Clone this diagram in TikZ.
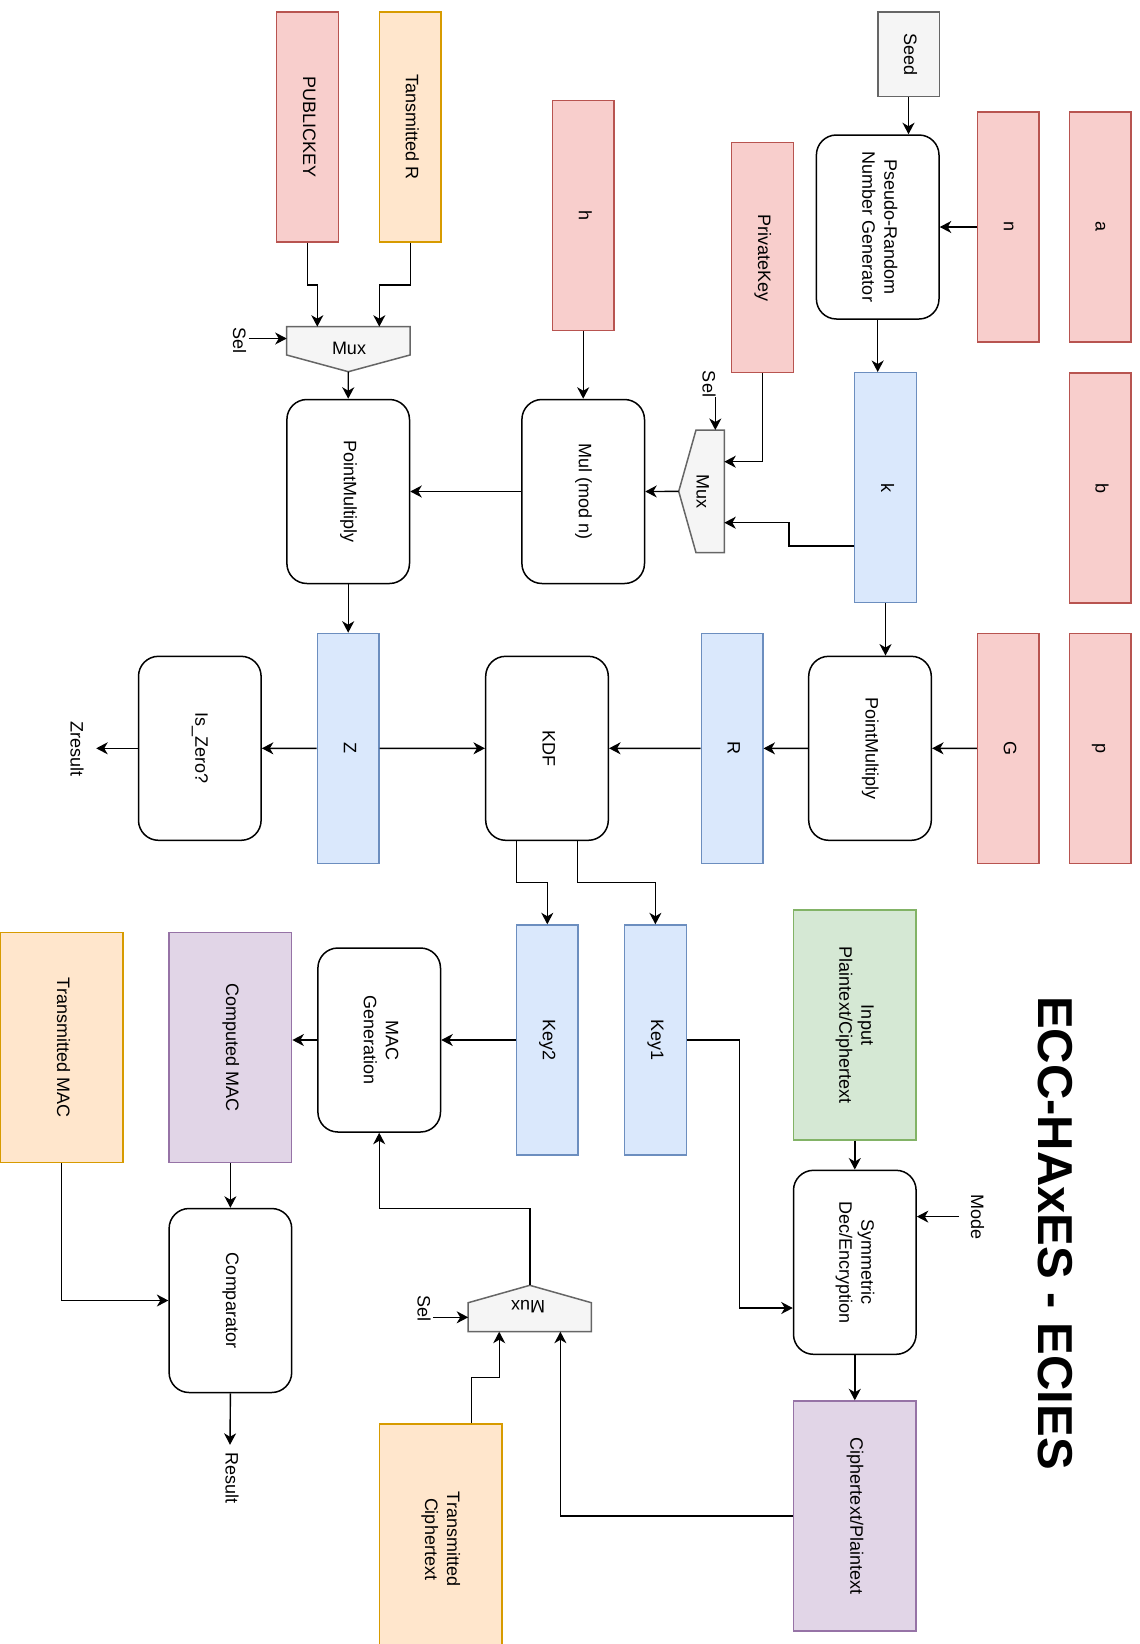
\documentclass[tikz,border=0pt]{standalone}
\usepackage{fontspec}
\setmainfont{Liberation Sans}
\usepackage{graphicx}
\usetikzlibrary{arrows.meta}

\definecolor{redF}{HTML}{F8CECC}\definecolor{redD}{HTML}{B85450}
\definecolor{orgF}{HTML}{FFE6CC}\definecolor{orgD}{HTML}{D79B00}
\definecolor{bluF}{HTML}{DAE8FC}\definecolor{bluD}{HTML}{6C8EBF}
\definecolor{grnF}{HTML}{D5E8D4}\definecolor{grnD}{HTML}{82B366}
\definecolor{purF}{HTML}{E1D5E7}\definecolor{purD}{HTML}{9673A6}
\definecolor{gryF}{HTML}{F5F5F5}\definecolor{gryD}{HTML}{666666}

% vertical text, read from top to bottom
\newcommand{\vtxt}[1]{\rotatebox{-90}{\begin{tabular}{@{}c@{}}#1\end{tabular}}}

\tikzset{
  txt/.style={font=\fontsize{18}{22}\selectfont},
  box/.style={txt, draw, line width=1.4pt, minimum width=61.6pt, minimum height=230pt, inner sep=0pt},
  wide/.style={minimum width=122.6pt},
  redbox/.style={box, fill=redF, draw=redD},
  orgbox/.style={box, fill=orgF, draw=orgD},
  blubox/.style={box, fill=bluF, draw=bluD},
  grnbox/.style={box, fill=grnF, draw=grnD},
  purbox/.style={box, fill=purF, draw=purD},
  proc/.style={txt, draw=black, fill=white, line width=1.5pt, rounded corners=20pt,
    minimum width=122.6pt, minimum height=184pt, inner sep=0pt},
  lbl/.style={txt, inner sep=0pt},
  muxshape/.style={fill=gryF, draw=gryD, line width=1.5pt, line join=miter},
  arr/.style={line width=1.4pt, -{Stealth[length=11.5pt,width=12pt,inset=3.5pt]}},
}

\begin{document}
\begin{tikzpicture}[x=1pt,y=-1pt]
\useasboundingbox (0,0) rectangle (1140,1644);

% ---------- curve parameters and key material ----------
\node[redbox] (a) at (1100,227) {\vtxt{a}};
\node[redbox] (n) at (1008.3,227) {\vtxt{n}};
\node[redbox] (b) at (1100,488) {\vtxt{b}};
\node[redbox] (p) at (1100,748.4) {\vtxt{p}};
\node[redbox] (G) at (1008.3,748.4) {\vtxt{G}};
\node[redbox] (priv) at (762.5,257.6) {\vtxt{PrivateKey}};
\node[redbox] (h) at (583.2,215.5) {\vtxt{h}};
\node[redbox] (pub) at (307.5,127) {\vtxt{PUBLICKEY}};
\node[orgbox] (trR) at (410.2,127) {\vtxt{Tansmitted R}};
\node[box, fill=gryF, draw=gryD, minimum width=61.4pt, minimum height=84.7pt] (seed) at (908.5,54.4) {\vtxt{Seed}};

% ---------- processing blocks ----------
\node[proc] (prng) at (877.7,227) {\vtxt{Pseudo-Random\\Number Generator}};
\node[blubox] (k) at (885.5,487.7) {\vtxt{k}};
\node[proc] (mul) at (583.2,491.5) {\vtxt{Mul (mod n)}};
\node[proc] (pm2) at (348.2,491.5) {\vtxt{PointMultiply}};
\node[proc] (pm1) at (870,748.3) {\vtxt{PointMultiply}};
\node[blubox] (R) at (732,748.4) {\vtxt{R}};
\node[proc] (kdf) at (547,748.3) {\vtxt{KDF}};
\node[blubox] (Z) at (348.2,748.4) {\vtxt{Z}};
\node[proc] (iszero) at (199.8,748.3) {\vtxt{Is\_Zero?}};
\node[lbl] (zres) at (75,749) {\vtxt{Zresult}};

\node[blubox] (key2) at (547.3,1040) {\vtxt{Key2}};
\node[blubox] (key1) at (655.4,1040) {\vtxt{Key1}};
\node[proc] (macgen) at (379.2,1040) {\vtxt{MAC\\Generation}};
\node[purbox, wide] (cmac) at (230.4,1047.5) {\vtxt{Computed MAC}};
\node[orgbox, wide] (tmac) at (61.5,1047.5) {\vtxt{Transmitted MAC}};
\node[proc] (cmp) at (230.4,1300.5) {\vtxt{Comparator}};
\node[lbl] (res) at (230,1477.5) {\vtxt{Result}};

\node[grnbox, wide] (input) at (854.8,1025) {\vtxt{Input\\Plaintext/Ciphertext}};
\node[proc] (sym) at (854.8,1262.3) {\vtxt{Symmetric\\Dec/Encryption}};
\node[lbl] (mode) at (975.4,1216.6) {\vtxt{Mode}};
\node[purbox, wide] (cp) at (854.8,1516) {\vtxt{Ciphertext/Plaintext}};
\node[orgbox, wide] (tc) at (440.5,1539) {\vtxt{Transmitted\\Ciphertext}};

\node[font=\bfseries\fontsize{49}{58}\selectfont, inner sep=0pt] (title) at (1055,1233) {\rotatebox{-90}{ECC-HAxES - ECIES}};

% ---------- multiplexers ----------
\draw[muxshape] (286.7,326.7) -- (410,326.7) -- (410,355) -- (348.3,371.7) -- (286.7,355) -- cycle;
\node[lbl] (mux1) at (349,348) {Mux};
\coordinate (m1a) at (317.3,326.7);
\coordinate (m1b) at (379.3,326.7);
\coordinate (m1s) at (286.7,338.5);
\coordinate (m1o) at (348.3,371.7);
\node[lbl] (sel1) at (237.5,340.5) {\vtxt{Sel}};

\draw[muxshape] (724.3,430) -- (724.3,552.7) -- (696,552.7) -- (678.7,491.4) -- (696,430) -- cycle;
\node[lbl] (mux2) at (701,491.4) {\vtxt{Mux}};
\coordinate (m2a) at (724.3,461.7);
\coordinate (m2b) at (724.3,522.7);
\coordinate (m2s) at (715.3,430);
\coordinate (m2o) at (678.7,491.4);
\node[lbl] (sel2) at (707,384) {\vtxt{Sel}};

\draw[muxshape] (468.2,1331.7) -- (591.4,1331.7) -- (591.4,1302.7) -- (529.8,1285.3) -- (468.2,1302.7) -- cycle;
\node[lbl] (mux3) at (528,1307) {\rotatebox{180}{Mux}};
\coordinate (m3a) at (499.2,1331.7);
\coordinate (m3b) at (560.4,1331.7);
\coordinate (m3s) at (468.2,1317.3);
\coordinate (m3o) at (529.8,1285.3);
\node[lbl] (sel3) at (422,1308) {\vtxt{Sel}};

% ---------- connections ----------
\draw[arr] (seed.south) -- (seed.south |- prng.north);
\draw[arr] (n.west) -- (prng.east);
\draw[arr] (prng.south) -- (prng.south |- k.north);
\draw[arr] (k.south) -- (k.south |- pm1.north);
\draw[arr] (G.west) -- (pm1.east);
\draw[arr] (pm1.west) -- (R.east);
\draw[arr] (R.west) -- (kdf.east);
\draw[arr] (Z.east) -- (kdf.west);
\draw[arr] (Z.west) -- (iszero.east);
\draw[arr] (iszero.west) -- ([xshift=10pt]zres.east |- iszero.west);

\draw[arr] (priv.south) |- (m2a);
\draw[arr] ([yshift=-58.3pt]k.west) -- (789,546) |- (m2b);
\draw[arr] (sel2.south -| m2s) -- (m2s);
\draw[arr] (m2o) -- (mul.east);
\draw[arr] (h.south) -- (mul.north);
\draw[arr] (mul.west) -- (pm2.east);

\draw[arr] (pub.south) -- (307.5,285) -| (m1a);
\draw[arr] (trR.south) -- (410.2,285) -| (m1b);
\draw[arr] (sel1.east |- m1s) -- (m1s);
\draw[arr] (m1o) -- (pm2.north);
\draw[arr] (pm2.south) -- (Z.north);

\draw[arr] ([xshift=-30.7pt]kdf.south) -- (516.3,882.7) -| (key2.north);
\draw[arr] ([xshift=30.7pt]kdf.south) -- (577.7,882.7) -| (key1.north);
\draw[arr] (key2.west) -- (macgen.east);
\draw[arr] (macgen.west) -- (macgen.west -| cmac.east);
\draw[arr] (cmac.south) -- (cmp.north);
\draw[arr] (tmac.south) |- (cmp.west);
\draw[arr] (cmp.south) -- ([yshift=7pt]res.north);

\draw[arr] (key1.east) -- (739.5,1040) |- ([yshift=-45.7pt]sym.west);
\draw[arr] (input.south) -- (sym.north);
\draw[arr] ([xshift=-5pt]mode.west) -- ([yshift=45.7pt]sym.east);
\draw[arr] (sym.south) -- (cp.north);

\draw[arr] (cp.west) -| (m3b);
\draw[arr] ([xshift=30.8pt]tc.north) |- (499.2,1377.3) -- (m3a);
\draw[arr] (sel3.east |- m3s) -- (m3s);
\draw[arr] (m3o) |- (379.2,1208.7) -- (macgen.south);
\end{tikzpicture}
\end{document}
